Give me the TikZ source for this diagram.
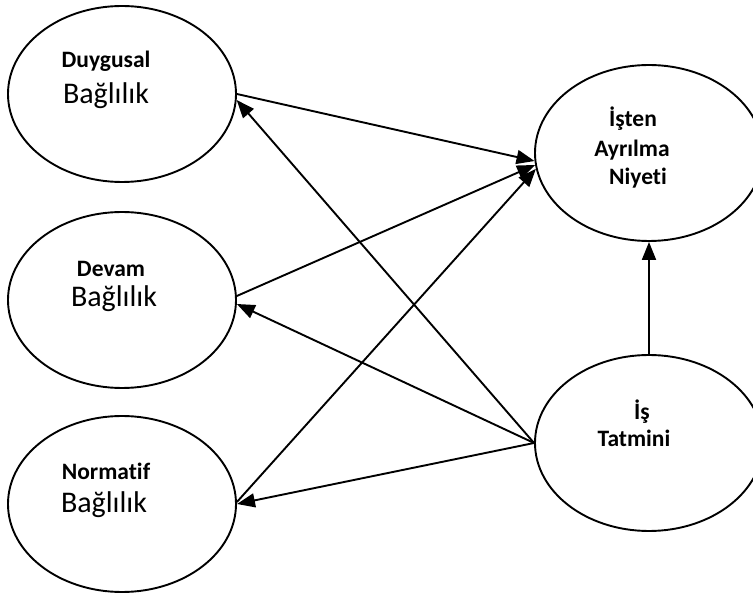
\documentclass[tikz,border=0pt]{standalone}
\usepackage{fontspec}
\setmainfont[Ligatures=NoCommon]{Carlito}
\usetikzlibrary{shapes.geometric,arrows.meta}
\begin{document}
\begin{tikzpicture}[x=1pt,y=-1pt,
  oval/.style={draw,ellipse,line width=1.9pt,minimum width=228pt,minimum height=176pt,inner sep=0pt},
  lbl/.style={anchor=base,inner sep=0pt,font=\fontsize{23.5}{27}\selectfont\bfseries},
  reg/.style={anchor=base,inner sep=0pt,font=\fontsize{30}{34}\selectfont},
  conn/.style={line width=1.9pt,-{Triangle[length=18pt,width=14pt]}}]
\useasboundingbox (0,0) rectangle (753,593);
\clip (0,0) rectangle (753,593);
\node[oval] (duy) at (122,94) {};
\node[oval] (dev) at (122,300) {};
\node[oval] (nor) at (122,504) {};
\node[oval] (ist) at (649,153) {};
\node[oval] (tat) at (649,443) {};
\node[lbl] (t1) at (106,68) {Duygusal};
\node[reg] (t2) at (106,104) {Bağlılık};
\node[lbl] (t3) at (111,277) {Devam};
\node[reg] (t4) at (114,307) {Bağlılık};
\node[lbl] (t5) at (106,480) {Normatif};
\node[reg] (t6) at (104,513) {Bağlılık};
\node[lbl] (t7) at (633,127) {İşten};
\node[lbl] (t8) at (632,157) {Ayrılma};
\node[lbl] (t9) at (638,185) {Niyeti};
\node[lbl] (t10) at (642,420) {İş};
\node[lbl] (t11) at (634,447) {Tatmini};
\draw[conn] (duy.east) -- (ist.184);
\draw[conn] (dev.2) -- (ist.186);
\draw[conn] (nor.1) -- (ist.188);
\draw[conn] (tat.west) -- (duy.-3);
\draw[conn] (tat.west) -- (dev.-2);
\draw[conn] (tat.west) -- (nor.east);
\draw[conn] (tat.north) -- (ist.south);
\end{tikzpicture}
\end{document}
